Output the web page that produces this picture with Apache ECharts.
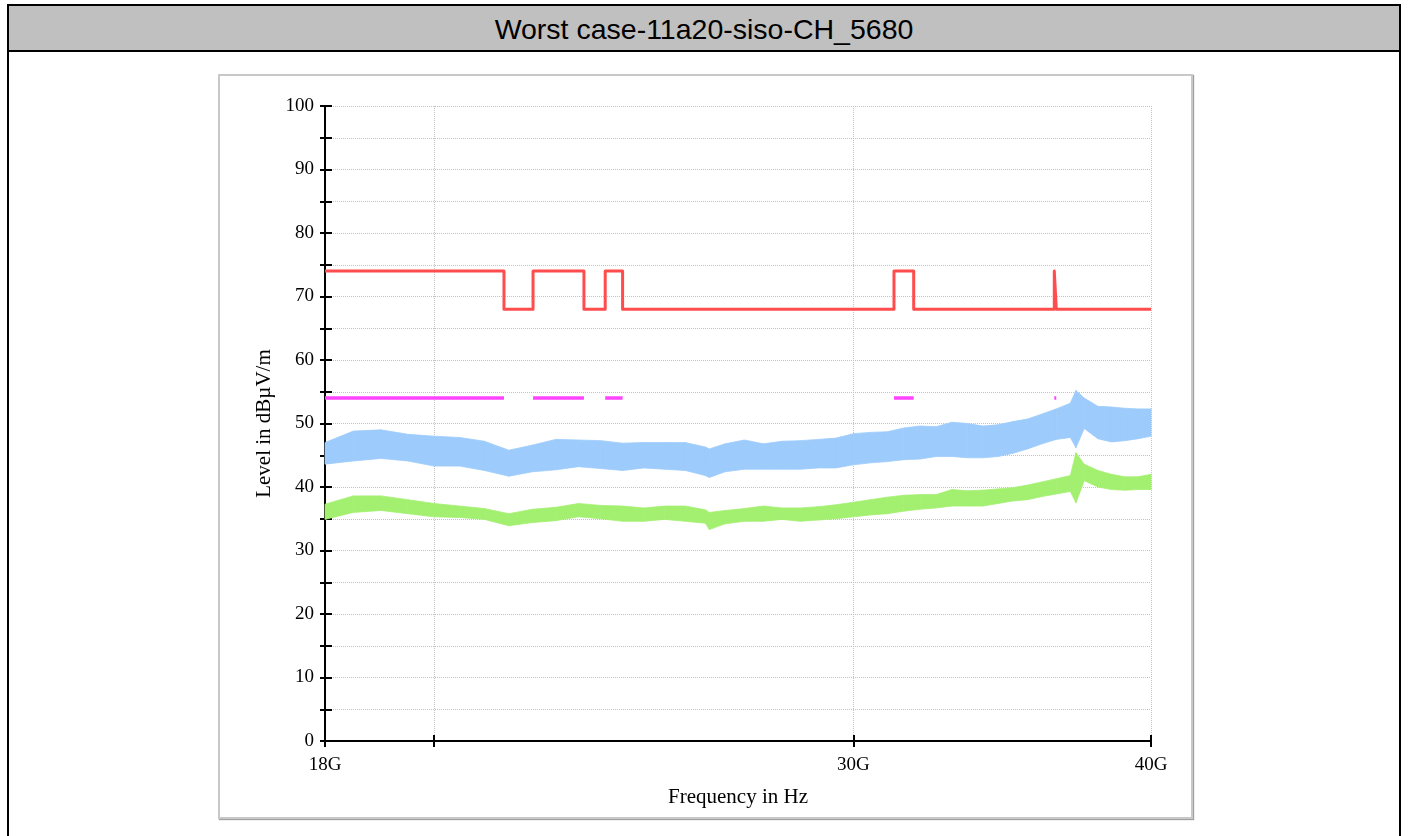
<!DOCTYPE html>
<html>
<head>
<meta charset="utf-8">
<title>Worst case-11a20-siso-CH_5680</title>
<script src="https://cdn.jsdelivr.net/npm/echarts@6/dist/echarts.min.js"></script>
<style>
  html, body { margin: 0; padding: 0; background: #fff; }
  .page { position: relative; width: 1408px; height: 836px; overflow: hidden; }
  .sheet { position: absolute; left: 7px; top: 4px; width: 1394px; height: 900px;
           border: 2px solid #000; box-sizing: border-box; }
  .sheet-title { height: 46px; background: #c0c0c0; border-bottom: 2px solid #000;
                 box-sizing: border-box; text-align: center; line-height: 46px;
                 font-family: "Liberation Sans", Arial, sans-serif; font-size: 28.5px; color: #000; }
  .frame { position: absolute; left: 218px; top: 74px; width: 975px; height: 745px;
           border: 2px solid #c8c8c8; box-sizing: border-box; box-shadow: 1px 1px 1px #a0a0a0; }
  #chart { position: absolute; left: 0; top: 0; width: 1408px; height: 836px; }
</style>
</head>
<body>
<div class="page">
  <div class="sheet">
    <div class="sheet-title">Worst case-11a20-siso-CH_5680</div>
  </div>
  <div class="frame"></div>
  <div id="chart"></div>
</div>
<script>
// frequency grid of the traces, GHz
var freqGHz = [18, 18.5, 19, 19.5, 20, 20.5, 21, 21.5, 22, 22.5, 23, 23.5, 24, 24.5, 25, 25.5, 26, 26.1,
  26.5, 27, 27.5, 28, 28.5, 29, 29.5, 30, 30.5, 31, 31.5, 32, 32.5, 33, 33.5, 34, 34.5, 35, 35.5, 36,
  36.5, 37, 37.2, 37.5, 38, 38.5, 39, 39.5, 40];

// peak trace (blue) - upper / lower edge of the noise band, dBuV/m
var peakHigh = [47.0, 48.8, 49.0, 48.3, 48.0, 47.8, 47.2, 45.8, 46.6, 47.5, 47.4, 47.3, 46.9, 47.0, 47.0, 47.0,
  46.3, 46.0, 46.8, 47.4, 46.8, 47.2, 47.3, 47.5, 47.7, 48.4, 48.6, 48.7, 49.3, 49.6, 49.5, 50.2, 50.0, 49.6,
  49.8, 50.3, 50.7, 51.5, 52.3, 53.2, 55.2, 54.0, 52.7, 52.6, 52.4, 52.3, 52.3];
var peakLow = [43.6, 44.1, 44.5, 44.1, 43.3, 43.3, 42.6, 41.7, 42.4, 42.7, 43.2, 42.9, 42.6, 43.0, 42.8, 42.6,
  41.8, 41.5, 42.4, 42.8, 42.8, 42.8, 42.8, 43.0, 43.0, 43.5, 43.8, 44.0, 44.3, 44.4, 44.8, 44.8, 44.6, 44.6,
  44.8, 45.3, 46.0, 46.8, 47.5, 47.8, 46.2, 49.2, 47.6, 47.1, 47.3, 47.6, 48.0];

// average trace (green)
var avgHigh = [37.3, 38.6, 38.6, 38.0, 37.4, 37.0, 36.6, 35.8, 36.5, 36.8, 37.4, 37.1, 37.0, 36.7, 37.0, 37.0,
  36.4, 36.0, 36.3, 36.6, 37.0, 36.7, 36.7, 36.9, 37.2, 37.6, 38.0, 38.4, 38.7, 38.8, 38.8, 39.6, 39.4, 39.5,
  39.7, 39.9, 40.3, 40.8, 41.3, 41.8, 45.4, 43.6, 42.6, 42.0, 41.6, 41.6, 42.0];
var avgLow = [34.9, 36.0, 36.3, 35.8, 35.3, 35.2, 34.9, 33.9, 34.4, 34.7, 35.3, 35.0, 34.6, 34.6, 34.9, 34.6,
  34.3, 33.3, 34.2, 34.6, 34.6, 34.9, 34.6, 34.8, 35.0, 35.3, 35.6, 35.8, 36.2, 36.5, 36.7, 37.0, 37.0, 37.0,
  37.4, 37.8, 38.0, 38.5, 38.9, 39.3, 37.5, 41.0, 40.0, 39.6, 39.5, 39.6, 39.6];

// peak limit (red), level holds from each frequency to the next
var limitFreq = [18, 21.4, 22.01, 23.12, 23.6, 24, 31.2, 31.8, 36.43, 36.5, 40];
var limitLevel = [74, 68, 74, 68, 74, 68, 74, 68, 74, 68, 68];

// average limit (magenta), only inside restricted bands
var bandStart = [18, 22.01, 23.6, 31.2, 36.43];
var bandEnd = [21.4, 23.12, 24, 31.8, 36.5];
var avgLimit = 54;

// axis ticks
var xTicks = [18, 20, 30, 40];
var xTickLabels = [18, 30, 40];
var yTicks = [0, 5, 10, 15, 20, 25, 30, 35, 40, 45, 50, 55, 60, 65, 70, 75, 80, 85, 90, 95, 100];
var yTickLabels = [0, 10, 20, 30, 40, 50, 60, 70, 80, 90, 100];

var serif = '"Liberation Serif", "Times New Roman", serif';
var BLUE = '#9dcbfb';
var GREEN = '#a3f071';

function pairs(xs, ys) {
  return xs.map(function (x, i) { return [x, ys[i]]; });
}

// one quad per frequency step: [f0, f1, lo0, hi0, lo1, hi1]
function bandSegments(lo, hi) {
  var out = [];
  for (var i = 0; i < freqGHz.length - 1; i++) {
    out.push([freqGHz[i], freqGHz[i + 1], lo[i], hi[i], lo[i + 1], hi[i + 1]]);
  }
  return out;
}

function bandRenderer(color) {
  return function (params, api) {
    var a = api.coord([api.value(0), api.value(2)]);
    var b = api.coord([api.value(0), api.value(3)]);
    var c = api.coord([api.value(1), api.value(5)]);
    var d = api.coord([api.value(1), api.value(4)]);
    return {
      type: 'polygon',
      shape: { points: [a, b, c, d] },
      style: { fill: color, stroke: color, lineWidth: 0.8 },
      silent: true
    };
  };
}

var avgLimitData = [];
bandStart.forEach(function (s, i) {
  avgLimitData.push([s, avgLimit], [bandEnd[i], avgLimit], [bandEnd[i], null]);
});

var tickStyle = { color: '#000', width: 2 };
var gridStyle = { type: 'dotted', color: '#c2c2c2', width: 1 };

var chart = echarts.init(document.getElementById('chart'));

var option = {
  animation: false,
  grid: { left: 325, top: 106, right: 257, bottom: 95 },
  xAxis: [
    {
      type: 'log',
      min: 18,
      max: 40,
      name: 'Frequency in Hz',
      nameLocation: 'middle',
      nameGap: 46,
      nameTextStyle: { fontFamily: serif, fontSize: 21, color: '#000' },
      axisLine: { lineStyle: { color: '#000', width: 2 } },
      axisTick: { customValues: xTicks, length: 6, lineStyle: tickStyle },
      axisLabel: {
        customValues: xTickLabels,
        formatter: function (v) { return Math.round(v) + 'G'; },
        margin: 15, fontFamily: serif, fontSize: 19, color: '#000'
      },
      splitLine: { show: true, lineStyle: gridStyle }
    },
    {
      // inner half of the crossing ticks
      type: 'log',
      min: 18,
      max: 40,
      position: 'bottom',
      axisLine: { show: false },
      axisTick: { customValues: xTicks, inside: true, length: 6, lineStyle: tickStyle },
      axisLabel: { show: false },
      splitLine: { show: false }
    }
  ],
  yAxis: [
    {
      type: 'value',
      min: 0,
      max: 100,
      interval: 5,
      name: 'Level in dB\u00b5V/m',
      nameLocation: 'middle',
      nameGap: 50,
      nameTextStyle: { fontFamily: serif, fontSize: 21, color: '#000' },
      axisLine: { show: true, lineStyle: { color: '#000', width: 2 } },
      axisTick: { show: true, customValues: yTicks, length: 5, lineStyle: tickStyle },
      axisLabel: { customValues: yTickLabels, margin: 11, fontFamily: serif, fontSize: 19, color: '#000' },
      splitLine: { show: true, lineStyle: gridStyle }
    },
    {
      type: 'value',
      min: 0,
      max: 100,
      interval: 5,
      position: 'left',
      axisLine: { show: false },
      axisTick: { show: true, customValues: yTicks, inside: true, length: 7, lineStyle: tickStyle },
      axisLabel: { show: false },
      splitLine: { show: false }
    }
  ],
  series: [
    {
      name: 'Peak',
      type: 'custom',
      renderItem: bandRenderer(BLUE),
      encode: { x: [0, 1], y: [2, 3, 4, 5] },
      data: bandSegments(peakLow, peakHigh),
      silent: true
    },
    {
      name: 'Average',
      type: 'custom',
      renderItem: bandRenderer(GREEN),
      encode: { x: [0, 1], y: [2, 3, 4, 5] },
      data: bandSegments(avgLow, avgHigh),
      silent: true
    },
    {
      name: 'Average limit',
      type: 'line',
      data: avgLimitData,
      connectNulls: false,
      showSymbol: false,
      lineStyle: { color: '#ff44ff', width: 3.5, cap: 'butt' },
      silent: true
    },
    {
      name: 'Peak limit',
      type: 'line',
      step: 'end',
      data: pairs(limitFreq, limitLevel),
      showSymbol: false,
      lineStyle: { color: '#ff4d4d', width: 3, join: 'round' },
      silent: true
    }
  ]
};

chart.setOption(option);

window.addEventListener('resize', function () {
  chart.resize();
});
</script>
</body>
</html>
